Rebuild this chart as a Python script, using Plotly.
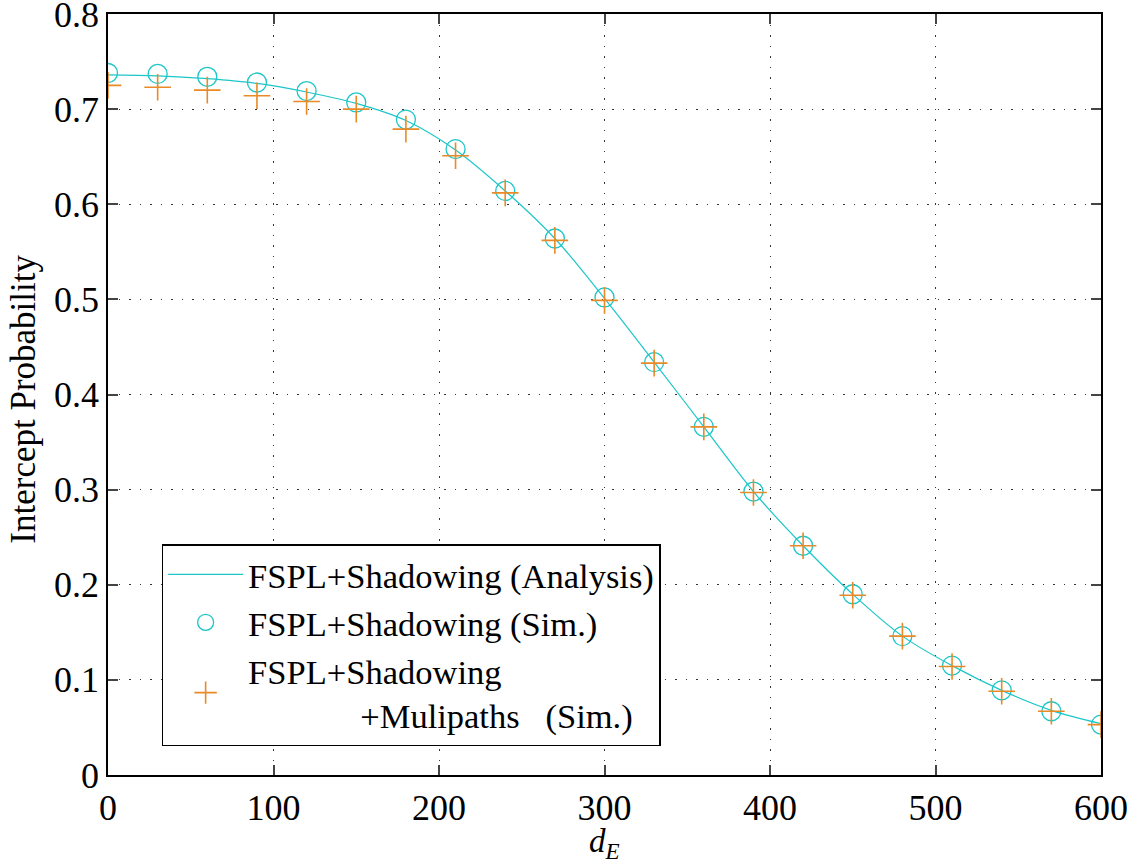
import plotly.graph_objects as go

d_E = [0, 30, 60, 90, 120, 150, 180, 210, 240, 270, 300, 330, 360, 390, 420, 450, 480, 510, 540, 570, 600]
analysis = [0.736, 0.735, 0.732, 0.727, 0.718, 0.706, 0.688, 0.657, 0.614, 0.564, 0.501, 0.434, 0.366, 0.298, 0.241, 0.190, 0.146, 0.115, 0.089, 0.068, 0.054]
sim_shadow = [0.738, 0.737, 0.734, 0.728, 0.719, 0.707, 0.689, 0.658, 0.614, 0.564, 0.502, 0.434, 0.366, 0.298, 0.241, 0.190, 0.146, 0.115, 0.089, 0.067, 0.053]
sim_multi = [0.725, 0.723, 0.720, 0.714, 0.708, 0.700, 0.679, 0.651, 0.612, 0.562, 0.499, 0.433, 0.366, 0.297, 0.241, 0.189, 0.146, 0.114, 0.088, 0.067, 0.053]

x_ticks = [0, 100, 200, 300, 400, 500, 600]
y_ticks = [0, 0.1, 0.2, 0.3, 0.4, 0.5, 0.6, 0.7, 0.8]
y_labels = ["0", "0.1", "0.2", "0.3", "0.4", "0.5", "0.6", "0.7", "0.8"]

cyan = "#1cc6c8"
orange = "#e98a26"
font = "Liberation Serif"

fig = go.Figure()
fig.add_trace(go.Scatter(x=d_E, y=analysis, mode="lines", line=dict(color=cyan, width=1.2, shape="spline"),
                         name="FSPL+Shadowing (Analysis)"))
fig.add_trace(go.Scatter(x=d_E, y=sim_shadow, mode="markers",
                         marker=dict(symbol="circle-open", size=19, color=cyan, line=dict(width=1.3, color=cyan)),
                         name="FSPL+Shadowing (Sim.)"))
fig.add_trace(go.Scatter(x=d_E, y=sim_multi, mode="markers",
                         marker=dict(symbol="cross-thin-open", size=19, color=orange, line=dict(width=1.6, color=orange)),
                         name="FSPL+Shadowing<br>\u00a0\u00a0\u00a0\u00a0\u00a0\u00a0\u00a0\u00a0\u00a0\u00a0\u00a0\u00a0\u00a0+Mulipaths\u00a0\u00a0\u00a0(Sim.)"))

axis_common = dict(showline=True, linecolor="black", linewidth=1.5, mirror="ticks",
                   ticks="inside", ticklen=10, tickcolor="#444", tickwidth=1.5,
                   showgrid=True, gridcolor="#333", griddash="1.5px,9px", gridwidth=1.2,
                   zeroline=False, ticklabeloverflow="allow", automargin=False,
                   tickfont=dict(family=font, size=36, color="black"))

fig.update_layout(
    width=1145, height=863,
    paper_bgcolor="white", plot_bgcolor="white",
    margin=dict(l=108, r=44, t=14, b=88),
    font=dict(family=font, color="black"),
    xaxis=dict(range=[0, 600], tickvals=x_ticks, **axis_common),
    yaxis=dict(range=[0, 0.8], tickvals=y_ticks, ticktext=y_labels, **axis_common),
    legend=dict(x=0.054, y=0.3035, xanchor="left", yanchor="top",
                bgcolor="white", bordercolor="black", borderwidth=1.5,
                font=dict(family=font, size=34.5, color="black"),
                itemwidth=75, tracegroupgap=0),
    showlegend=True,
    annotations=[
        dict(text="<i>d</i><sub><i>E</i></sub>", xref="paper", yref="paper",
             x=0.5, y=-0.119, xanchor="center", yanchor="bottom", showarrow=False,
             font=dict(family=font, size=33, color="black")),
        dict(text="Intercept Probability", xref="paper", yref="paper",
             x=-0.086, y=0.494, xanchor="center", yanchor="middle", textangle=-90, showarrow=False,
             font=dict(family=font, size=35, color="black")),
    ],
)

fig.write_html("out.html", config={"displayModeBar": False},
               post_script="document.body.style.margin='0';document.body.style.overflow='hidden';")
